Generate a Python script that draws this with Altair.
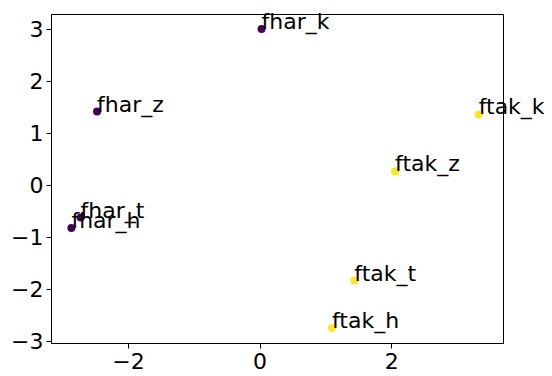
import altair as alt
import pandas as pd

labels = ["fhar_k", "fhar_z", "fhar_t", "fhar_h", "ftak_k", "ftak_z", "ftak_t", "ftak_h"]
xs = [0.03, -2.47, -2.72, -2.86, 3.33, 2.06, 1.44, 1.10]
ys = [3.00, 1.415, -0.62, -0.82, 1.36, 0.27, -1.83, -2.74]
groups = ["fhar", "fhar", "fhar", "fhar", "ftak", "ftak", "ftak", "ftak"]

df = pd.DataFrame({"label": labels, "x": xs, "y": ys, "group": groups})

FONT = "DejaVu Sans"
FS = 22

xscale = alt.Scale(domain=[-3.17, 3.70], nice=False, zero=False)
yscale = alt.Scale(domain=[-3.03, 3.29], nice=False, zero=False)

xenc = alt.X("x:Q", scale=xscale, title=None,
             axis=alt.Axis(values=[-2, 0, 2], format="d", grid=False, tickSize=5, labelPadding=3,
                           labelFontSize=FS, labelFont=FONT, labelColor="black",
                           domainColor="black", tickColor="black", labelFlush=False))
yenc = alt.Y("y:Q", scale=yscale, title=None,
             axis=alt.Axis(values=[-3, -2, -1, 0, 1, 2, 3], format="d", grid=False, tickSize=5, labelPadding=3,
                           labelFontSize=FS, labelFont=FONT, labelColor="black",
                           domainColor="black", tickColor="black", labelFlush=False))

base = alt.Chart(df)

points = base.mark_circle(size=64, opacity=1).encode(
    x=xenc, y=yenc,
    color=alt.Color("group:N", scale=alt.Scale(domain=["fhar", "ftak"], range=["#440154", "#fde725"]), legend=None),
)

texts = base.mark_text(align="left", baseline="alphabetic", fontSize=FS, font=FONT, color="black").encode(
    x="x:Q", y="y:Q", text="label:N"
)

chart = alt.layer(points, texts).properties(
    width=452, height=329,
    autosize=alt.AutoSizeParams(type="none"),
    padding={"left": 43, "top": 6, "right": 41, "bottom": 30},
).configure_view(stroke="black", strokeWidth=1)

chart.save("out.html", embed_options={"renderer": "svg", "actions": False})
